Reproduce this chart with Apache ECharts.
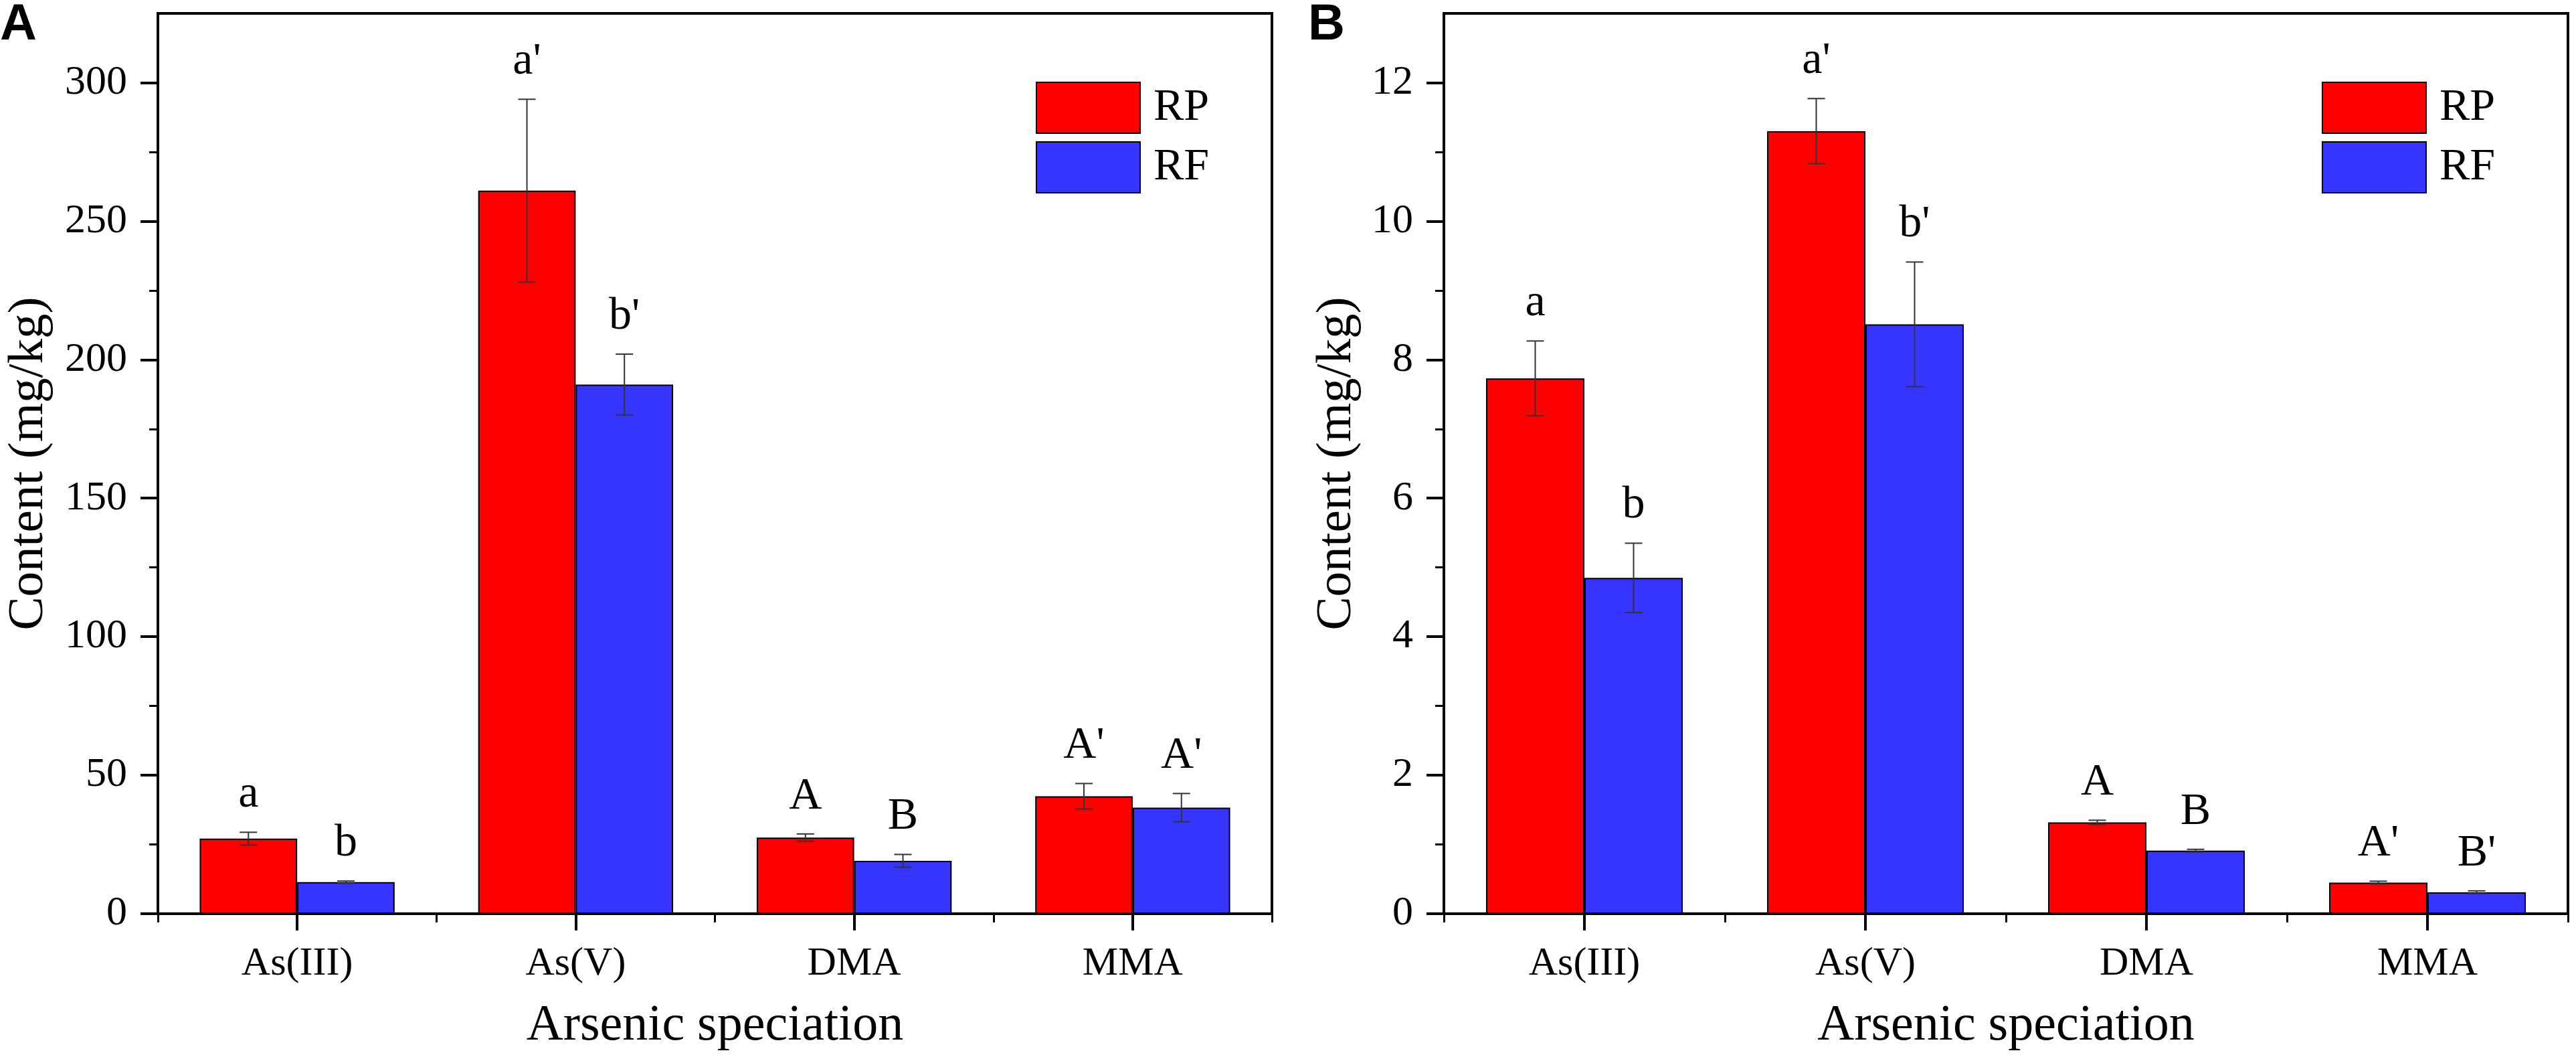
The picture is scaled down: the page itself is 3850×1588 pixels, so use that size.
<!DOCTYPE html>
<html>
<head>
<meta charset="utf-8">
<title>Arsenic speciation</title>
<script src="https://cdn.jsdelivr.net/npm/echarts@6/dist/echarts.min.js"></script>
<style>
  html, body { margin: 0; padding: 0; background: #fff; }
  #main { width: 3850px; height: 1588px; }
</style>
</head>
<body>
<div id="main"></div>
<script>
// categories and values
var categories = ['As(III)', 'As(V)', 'DMA', 'MMA'];

// panel A
var rpA = [27.1, 261.0, 27.5, 42.4];
var rpAErr = [2.3, 33.0, 1.3, 4.6];
var rfA = [11.4, 191.0, 19.1, 38.3];
var rfAErr = [0.4, 11.0, 2.3, 5.1];
var rpALetters = ['a', "a'", 'A', "A'"];
var rfALetters = ['b', "b'", 'B', "A'"];

// panel B
var rpB = [7.73, 11.30, 1.32, 0.45];
var rpBErr = [0.54, 0.47, 0.03, 0.02];
var rfB = [4.85, 8.51, 0.91, 0.31];
var rfBErr = [0.50, 0.90, 0.02, 0.02];
var rpBLetters = ['a', "a'", 'A', "A'"];
var rfBLetters = ['b', "b'", 'B', "B'"];

// tick labels
var ticksA = [0, 50, 100, 150, 200, 250, 300];
var minorA = [25, 75, 125, 175, 225, 275];
var ticksB = [0, 2, 4, 6, 8, 10, 12];
var minorB = [1, 3, 5, 7, 9, 11];

var serif = '"Liberation Serif", "Times New Roman", serif';
var RED = '#ff0000';
var BLUE = '#3535ff';

var myChart = echarts.init(document.getElementById('main'));

function errData(vals, errs) {
  return vals.map(function (v, i) { return [i, v, errs[i]]; });
}

// error bar + significance letter, side -1 = left bar, 1 = right bar
function errorItem(side, letters) {
  return function (params, api) {
    var cat = api.value(0), mean = api.value(1), err = api.value(2);
    var band = api.size([1, 0])[0];
    var dx = side * band * 0.35 / 2;
    var top = api.coord([cat, mean + err]);
    var bot = api.coord([cat, mean - err]);
    var x = top[0] + dx;
    var cap = 13;
    var ls = { stroke: '#333', lineWidth: 2 };
    return {
      type: 'group',
      children: [
        { type: 'line', shape: { x1: x, y1: top[1], x2: x, y2: bot[1] }, style: ls },
        { type: 'line', shape: { x1: x - cap, y1: top[1], x2: x + cap, y2: top[1] }, style: ls },
        { type: 'line', shape: { x1: x - cap, y1: bot[1], x2: x + cap, y2: bot[1] }, style: ls },
        {
          type: 'text', x: x, y: top[1] - 22,
          style: {
            text: letters[params.dataIndex], fill: '#000',
            font: '68px ' + serif, align: 'center', verticalAlign: 'bottom'
          }
        }
      ]
    };
  };
}

function mainX(grid) {
  return {
    gridIndex: grid, type: 'category', data: categories, position: 'bottom',
    axisLine: { show: true, onZero: false, lineStyle: { color: '#000', width: 4 } },
    axisTick: { show: true, alignWithLabel: true, length: 25, lineStyle: { color: '#000', width: 4 } },
    axisLabel: { interval: 0, margin: 45, fontSize: 60, color: '#000', fontFamily: serif },
    splitLine: { show: false },
    name: 'Arsenic speciation', nameLocation: 'middle', nameGap: 130,
    nameTextStyle: { fontSize: 76, color: '#000', fontFamily: serif }
  };
}

function edgeX(grid) {
  return {
    gridIndex: grid, type: 'category', data: categories, position: 'bottom',
    axisLine: { show: false },
    axisTick: { show: true, alignWithLabel: false, length: 13, lineStyle: { color: '#000', width: 3 } },
    axisLabel: { show: false },
    splitLine: { show: false }
  };
}

function mainY(grid, max, interval, ticks, gap) {
  return {
    gridIndex: grid, type: 'value', min: 0, max: max, interval: interval, position: 'left',
    axisLine: { show: true, lineStyle: { color: '#000', width: 4 } },
    axisTick: { show: true, length: 26, customValues: ticks, lineStyle: { color: '#000', width: 4 } },
    axisLabel: { customValues: ticks, margin: 46, fontSize: 62, color: '#000', fontFamily: serif },
    splitLine: { show: false },
    name: 'Content (mg/kg)', nameLocation: 'middle', nameGap: gap,
    nameTextStyle: { fontSize: 75, color: '#000', fontFamily: serif }
  };
}

function minorY(grid, max, minors) {
  return {
    gridIndex: grid, type: 'value', min: 0, max: max, position: 'left',
    axisLine: { show: false },
    axisTick: { show: true, length: 13, customValues: minors, lineStyle: { color: '#000', width: 3 } },
    axisLabel: { show: false },
    splitLine: { show: false }
  };
}

function legendAt(left) {
  return {
    left: left, top: 117, orient: 'vertical', icon: 'rect',
    itemWidth: 155, itemHeight: 76, itemGap: 11, selectedMode: false,
    data: ['RP', 'RF'],
    itemStyle: { borderColor: '#000', borderWidth: 2 },
    textStyle: { fontSize: 68, color: '#000', fontFamily: serif, padding: [0, 0, 0, 15] }
  };
}

function bar(name, x, y, data, color) {
  return {
    type: 'bar', name: name, xAxisIndex: x, yAxisIndex: y, data: data,
    barGap: '0%', barCategoryGap: '30%',
    itemStyle: { color: color, borderColor: '#000', borderWidth: 2 },
    silent: true
  };
}

function errSeries(x, y, vals, errs, side, letters) {
  return {
    type: 'custom', xAxisIndex: x, yAxisIndex: y,
    data: errData(vals, errs), encode: { x: 0, y: 1 },
    renderItem: errorItem(side, letters), clip: false, z: 5, silent: true
  };
}

var option = {
  backgroundColor: '#fff',
  animation: false,
  grid: [
    { left: 236, top: 20, right: 1949, bottom: 223, show: true, borderColor: '#000', borderWidth: 4, outerBoundsMode: 'none' },
    { left: 2158, top: 20, right: 12, bottom: 223, show: true, borderColor: '#000', borderWidth: 4, outerBoundsMode: 'none' }
  ],
  xAxis: [mainX(0), edgeX(0), mainX(1), edgeX(1)],
  yAxis: [
    mainY(0, 325, 50, ticksA, 155), minorY(0, 325, minorA),
    mainY(1, 13, 2, ticksB, 122), minorY(1, 13, minorB)
  ],
  legend: [legendAt(1543), legendAt(3465)],
  graphic: [
    { type: 'text', left: 0, top: 0, style: { text: 'A', font: 'bold 76px "Liberation Sans", Arial, sans-serif', fill: '#000' } },
    { type: 'text', left: 1955, top: 0, style: { text: 'B', font: 'bold 76px "Liberation Sans", Arial, sans-serif', fill: '#000' } }
  ],
  series: [
    bar('RP', 0, 0, rpA, RED),
    bar('RF', 0, 0, rfA, BLUE),
    errSeries(0, 0, rpA, rpAErr, -1, rpALetters),
    errSeries(0, 0, rfA, rfAErr, 1, rfALetters),
    bar('RP', 2, 2, rpB, RED),
    bar('RF', 2, 2, rfB, BLUE),
    errSeries(2, 2, rpB, rpBErr, -1, rpBLetters),
    errSeries(2, 2, rfB, rfBErr, 1, rfBLetters)
  ]
};

myChart.setOption(option);
window.addEventListener('resize', function () { myChart.resize(); });
</script>
</body>
</html>
